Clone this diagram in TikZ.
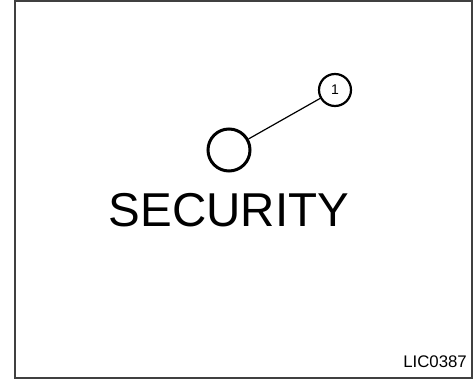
\documentclass[tikz,border=0pt]{standalone}
\usepackage{fontspec}
\setmainfont{Liberation Sans}
\usepackage{tikz}
\usetikzlibrary{positioning}
\tikzset{
  ring/.style = {
    circle, draw=black, line width=3pt, minimum size=42pt, inner sep=0pt
  },
  callout/.style = {
    circle, draw=black, line width=2.2pt, minimum size=32pt, inner sep=0pt,
    font=\fontsize{14}{14}\selectfont
  },
  leader/.style = {line width=1.2pt},
  caption/.style = {font=\fontsize{47.5}{48}\selectfont, inner sep=0pt},
  figcode/.style = {font=\fontsize{16.8}{17}\selectfont, inner sep=0pt}
}

\begin{document}
\begin{tikzpicture}[x=1pt, y=1pt]
  \useasboundingbox (0,0) rectangle (476,380);
  % frame
  \draw[line width=2pt, draw=black!75] (15,2) rectangle (472,379);

  % symbol and callout
  \node[ring] (LAMP) at (229,230) {};
  \node[callout] (C1) at (335,290) {1};
  \draw[leader] (LAMP) -- (C1);

  % texts
  \node[caption] (SEC) at (229,170) {SECURITY};
  \node[figcode, anchor=base east] (CODE) at (467,13) {LIC0387};
\end{tikzpicture}
\end{document}
